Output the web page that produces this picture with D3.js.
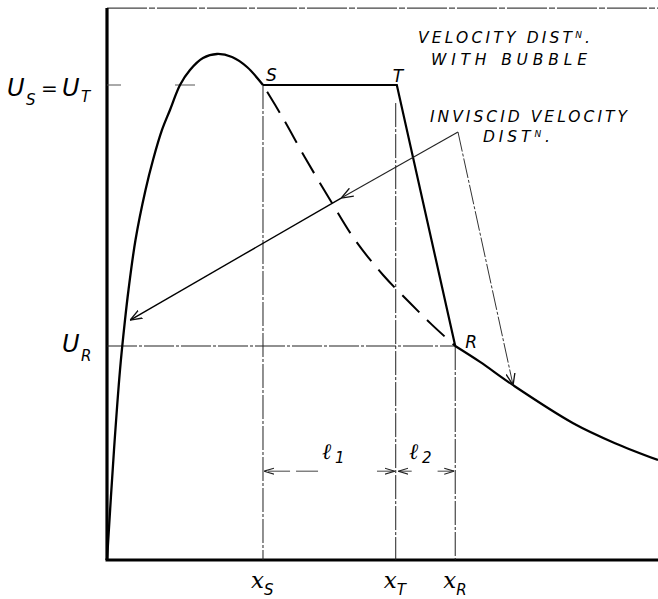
<!DOCTYPE html>
<html><head><meta charset="utf-8">
<script src="https://cdn.jsdelivr.net/npm/d3@7"></script>
<style>html,body{margin:0;padding:0;background:#fff}svg{display:block}</style>
</head><body>
<svg id="c" width="658" height="599"></svg>
<script>
// ---- data (x as fraction of plotted length, U relative to U_S = U_T) ----
const bubbleRiseX = [0, 0.0127, 0.0236, 0.0327, 0.0390, 0.0517, 0.0699, 0.0835, 0.0998, 0.1143, 0.1325, 0.1506, 0.1742, 0.1996, 0.2269, 0.2541, 0.2831];
const bubbleRiseU = [0, 0.2316, 0.400, 0.5053, 0.5684, 0.6737, 0.7789, 0.8421, 0.9053, 0.9474, 1.0, 1.0316, 1.0568, 1.0653, 1.0589, 1.0379, 1.0];
const plateauX = [0.2831, 0.526, 0.632];
const plateauU = [1.0, 1.0, 0.4505];
const tailX = [0.632, 0.677, 0.737, 0.846, 0.922, 1.0];
const tailU = [0.4505, 0.417, 0.368, 0.288, 0.246, 0.2105];
const inviscidX = [0.2831, 0.319, 0.359, 0.405, 0.450, 0.501, 0.550, 0.590, 0.632];
const inviscidU = [1.0, 0.931, 0.848, 0.758, 0.674, 0.600, 0.541, 0.495, 0.4505];
const pointNames = ["S", "T", "R"];
const pointX = [0.2831, 0.526, 0.632];
const pointU = [1.0, 1.0, 0.4505];
const xTickNames = ["S", "T", "R"];
const xTickX = [0.2831, 0.524, 0.632];
const U_SLevel = 1.0, U_RLevel = 0.4505, U_Top = 1.162;
const noteApex = [0.637, 0.901];
const noteTargets = [[0.425, 0.762], [0.042, 0.505], [0.737, 0.368]];
const dimU = 0.187;
const noteLines = [["VELOCITY DIST", "N", "."], ["WITH BUBBLE", "", ""], ["INVISCID VELOCITY", "", ""], ["DIST", "N", "."]];

const svg = d3.select("#c");
const x = d3.scaleLinear().domain([0, 1]).range([107, 658]);
const y = d3.scaleLinear().domain([0, 1]).range([560, 85]);

const defs = svg.append("defs");
defs.append("marker").attr("id", "arr").attr("viewBox", "0 0 12 10").attr("refX", 12).attr("refY", 5)
  .attr("markerWidth", 12).attr("markerHeight", 10).attr("markerUnits", "userSpaceOnUse").attr("orient", "auto")
  .append("path").attr("d", "M0,0.5 L12,5 L0,9.5").attr("fill", "none").attr("stroke", "#111").attr("stroke-width", 1.3);
defs.append("marker").attr("id", "arrS").attr("viewBox", "0 0 10 8").attr("refX", 10).attr("refY", 4)
  .attr("markerWidth", 10).attr("markerHeight", 8).attr("markerUnits", "userSpaceOnUse").attr("orient", "auto")
  .append("path").attr("d", "M0,1 L10,4 L0,7").attr("fill", "none").attr("stroke", "#222").attr("stroke-width", 1.1);

// frame: top border, left axis, bottom axis
svg.append("line").attr("x1", x(0)).attr("x2", x(1)).attr("y1", y(U_Top)).attr("y2", y(U_Top))
  .attr("stroke", "#444").attr("stroke-width", 1.3).attr("stroke-dasharray", "40,2,6,2");
svg.append("line").attr("x1", x(0)).attr("x2", x(0)).attr("y1", y(U_Top)).attr("y2", y(0))
  .attr("stroke", "#000").attr("stroke-width", 3.2);
svg.append("line").attr("x1", x(0) - 1.5).attr("x2", x(1)).attr("y1", y(0)).attr("y2", y(0))
  .attr("stroke", "#000").attr("stroke-width", 3);

// reference lines
svg.append("line").attr("x1", x(0)).attr("x2", x(0.164)).attr("y1", y(U_SLevel)).attr("y2", y(U_SLevel))
  .attr("stroke", "#555").attr("stroke-width", 1).attr("stroke-dasharray", "14,54,20");
svg.append("line").attr("x1", x(0)).attr("x2", x(pointX[2])).attr("y1", y(U_RLevel)).attr("y2", y(U_RLevel))
  .attr("stroke", "#222").attr("stroke-width", 1.1).attr("stroke-dasharray", "30,2,3,2");
const vStart = [U_SLevel, 0.962, U_RLevel];
xTickX.forEach((v, i) => {
  svg.append("line").attr("x1", x(v)).attr("x2", x(v)).attr("y1", y(vStart[i])).attr("y2", y(0))
    .attr("stroke", "#222").attr("stroke-width", 1).attr("stroke-dasharray", "24,2,3,2");
});

// curves
const lineC = d3.line().x(d => x(d[0])).y(d => y(d[1])).curve(d3.curveCatmullRom.alpha(0.5));
const lineL = d3.line().x(d => x(d[0])).y(d => y(d[1]));
const zip = (a, b) => a.map((v, i) => [v, b[i]]);
svg.append("path").attr("d", lineC(zip(bubbleRiseX, bubbleRiseU))).attr("fill", "none").attr("stroke", "#000").attr("stroke-width", 2.3);
svg.append("path").attr("d", lineL(zip(plateauX, plateauU))).attr("fill", "none").attr("stroke", "#000").attr("stroke-width", 2.2).attr("stroke-linejoin", "miter");
svg.append("path").attr("d", lineC(zip(tailX, tailU))).attr("fill", "none").attr("stroke", "#000").attr("stroke-width", 2.2);
svg.append("path").attr("d", lineC(zip(inviscidX, inviscidU))).attr("fill", "none").attr("stroke", "#000").attr("stroke-width", 2)
  .attr("stroke-dasharray", "24,11").attr("stroke-dashoffset", -8);

// note pointer arrows
svg.append("line").attr("x1", x(noteApex[0])).attr("y1", y(noteApex[1])).attr("x2", x(noteTargets[0][0])).attr("y2", y(noteTargets[0][1]))
  .attr("stroke", "#222").attr("stroke-width", 1.1).attr("marker-end", "url(#arr)");
svg.append("line").attr("x1", x(noteTargets[0][0])).attr("y1", y(noteTargets[0][1])).attr("x2", x(noteTargets[1][0])).attr("y2", y(noteTargets[1][1]))
  .attr("stroke", "#000").attr("stroke-width", 1.4).attr("marker-end", "url(#arr)");
svg.append("line").attr("x1", x(noteApex[0])).attr("y1", y(noteApex[1])).attr("x2", x(noteTargets[2][0])).attr("y2", y(noteTargets[2][1]))
  .attr("stroke", "#333").attr("stroke-width", 1).attr("stroke-dasharray", "20,2,3,2").attr("marker-end", "url(#arr)");

// dimension arrows l1, l2
const dims = [[xTickX[0], 0.383, 0.490, xTickX[1]], [xTickX[1] + 0.003, 0.553, 0.600, xTickX[2]]];
dims.forEach(d => {
  svg.append("line").attr("x1", x(d[1])).attr("x2", x(d[0]) + 1).attr("y1", y(dimU)).attr("y2", y(dimU))
    .attr("stroke", "#444").attr("stroke-width", 1).attr("stroke-dasharray", "22,6").attr("marker-end", "url(#arrS)");
  svg.append("line").attr("x1", x(d[2])).attr("x2", x(d[3]) - 1).attr("y1", y(dimU)).attr("y2", y(dimU))
    .attr("stroke", "#444").attr("stroke-width", 1).attr("stroke-dasharray", "22,6").attr("marker-end", "url(#arrS)");
});

// notes
const sans = "'DejaVu Sans', sans-serif";
const notePos = [[418, 43, 172], [431, 65, 156], [430, 122, 197], [483, 142, 67]];
noteLines.forEach((l, i) => {
  const p = notePos[i];
  const t = svg.append("text").attr("x", p[0]).attr("y", p[1]).attr("font-family", sans).attr("font-style", "italic")
    .attr("font-size", 15.5).attr("fill", "#000").attr("textLength", p[2]).attr("lengthAdjust", "spacing");
  t.append("tspan").text(l[0]);
  if (l[1]) {
    t.append("tspan").attr("dy", -5).attr("font-size", 9).text(l[1]);
    t.append("tspan").attr("dy", 5).text(l[2]);
  }
});

// point labels S, T, R
const ptOff = [[3, -4], [-4, -3], [10, 2]];
pointNames.forEach((n, i) => {
  svg.append("text").attr("x", x(pointX[i]) + ptOff[i][0]).attr("y", y(pointU[i]) + ptOff[i][1])
    .attr("font-family", sans).attr("font-style", "italic").attr("font-size", 17).text(n);
});

// U labels (separate text pieces)
function piece(txt, px, py, size, fam) {
  svg.append("text").attr("x", px).attr("y", py).attr("font-family", fam || sans).attr("font-style", "italic")
    .attr("font-size", size).text(txt);
}
const yS = y(U_SLevel) + 11;
piece("U", 7, yS, 24);
piece("S", 26, yS + 9, 15);
piece("=", 41, yS - 1, 20);
piece("U", 62, yS, 24);
piece("T", 81, yS + 6, 15);
const yR = y(U_RLevel) + 6;
piece("U", 62, yR, 24);
piece("R", 81, yR + 9, 15);

// x labels
xTickNames.forEach((n, i) => {
  piece("x", x(xTickX[i]) - 12, 588, 23, "'DejaVu Serif', serif");
  piece(n, x(xTickX[i]) + 1, 595, 15);
});

// l1, l2
[["1", 322], ["2", 409]].forEach(d => {
  piece("ℓ", d[1], 459, 22, "'DejaVu Serif', serif");
  piece(d[0], d[1] + 13, 463, 15);
});
</script>
</body></html>
